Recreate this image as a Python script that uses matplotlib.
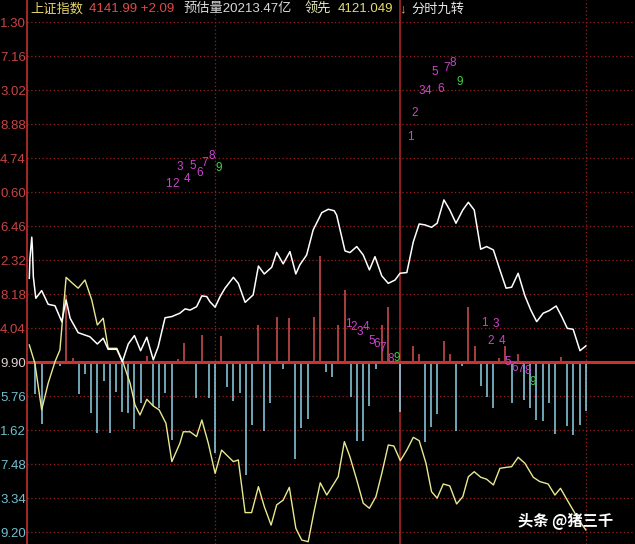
import matplotlib
matplotlib.use('Agg')
import matplotlib.pyplot as plt

plt.rcParams['font.family'] = ['Liberation Sans', 'Noto Sans CJK SC', 'DejaVu Sans']

# ---------------- data ----------------
prev_close = 4139.90

grid_values = [4069.20, 4083.34, 4097.48, 4111.62, 4125.76, 4139.90, 4154.04,
               4168.18, 4182.32, 4196.46, 4210.60, 4224.74, 4238.88, 4253.02,
               4267.16, 4281.30]
grid_labels = ['9.20', '3.34', '7.48', '1.62', '5.76', '9.90', '4.04',
               '8.18', '2.32', '6.46', '0.60', '4.74', '8.88', '3.02',
               '7.16', '1.30']

# price line (minutes since open, index value)
price_t = [0, 0.2, 0.8, 1.0, 1.3, 2.1, 4.0, 6.1, 8.3, 10.5, 11.9, 13.2, 15.8, 19.6,
           22.0, 23.9, 25.5, 28.3, 30.1, 32.0, 34.0, 36.0, 38.0, 40.1, 41.7, 43.9,
           46.1, 48.7, 50.4, 52.0, 54.1, 55.8, 57.4, 58.4, 60.1, 61.7, 63.3, 66.0,
           67.6, 69.8, 72.4, 74.1, 76.0, 78.4, 80.0, 82.1, 84.3, 86.2, 87.5, 89.7,
           91.8, 94.6, 96.7, 98.6, 99.4, 102.1, 103.7, 105.9, 108.0, 110.0, 111.8,
           114.0, 116.1, 118.3, 119.9, 122.1, 124.2, 126.1, 128.0, 130.1, 131.9,
           134.1, 136.0, 138.0, 140.2, 142.0, 143.9, 146.0, 147.9, 150.1, 152.2,
           154.2, 156.0, 158.1, 160.3, 162.2, 164.1, 166.2, 168.2, 170.4, 172.2,
           174.0, 175.9, 178.1, 180.0]
price_v = [4174.8, 4183.1, 4191.9, 4187.4, 4175.5, 4166.5, 4169.7, 4164.0, 4163.4,
           4156.8, 4165.8, 4158.2, 4152.2, 4150.5, 4147.5, 4149.9, 4145.3, 4145.3,
           4140.1, 4147.5, 4151.0, 4144.7, 4150.3, 4140.9, 4146.4, 4158.4, 4158.9,
           4160.3, 4162.1, 4161.6, 4163.0, 4167.5, 4167.2, 4165.1, 4162.8, 4167.2,
           4170.7, 4175.2, 4172.7, 4164.8, 4167.9, 4179.9, 4176.6, 4179.4, 4185.6,
           4180.8, 4185.9, 4176.6, 4180.4, 4184.5, 4194.9, 4202.1, 4203.5, 4202.9,
           4201.1, 4186.2, 4185.5, 4188.0, 4184.5, 4178.3, 4183.8, 4175.8, 4172.7,
           4174.1, 4176.9, 4177.2, 4190.0, 4197.4, 4197.0, 4196.0, 4197.7, 4207.4,
           4203.2, 4197.7, 4203.2, 4206.4, 4203.2, 4186.9, 4188.0, 4186.6, 4178.3,
           4170.7, 4171.1, 4176.9, 4167.5, 4161.6, 4156.8, 4160.3, 4161.4, 4163.3,
           4158.9, 4154.0, 4153.6, 4144.7, 4146.7]

# "领先" lead line
lead_t = [0, 1.8, 4.0, 6.1, 8.3, 9.9, 11.0, 11.9, 14.0, 15.8, 18.0, 20.2, 22.0,
          23.9, 25.5, 28.3, 30.4, 32.6, 34.2, 35.8, 38.0, 40.1, 42.0, 44.2, 46.1,
          48.7, 49.8, 52.0, 54.1, 55.8, 57.9, 60.1, 62.2, 64.4, 66.0, 67.6, 69.8,
          71.9, 74.1, 76.0, 78.2, 80.0, 82.1, 84.1, 86.2, 88.1, 90.2, 92.2, 94.1,
          96.2, 98.6, 99.9, 101.9, 103.7, 105.9, 108.0, 110.0, 112.1, 114.0, 116.1,
          117.9, 120.0, 122.1, 124.2, 126.1, 128.3, 130.1, 131.9, 133.9, 136.0,
          138.2, 140.2, 142.0, 143.9, 146.0, 147.9, 150.1, 152.2, 154.2, 156.0,
          158.1, 160.3, 163.0, 165.1, 167.8, 170.0, 171.8, 174.3, 176.5, 178.1, 180.0]
lead_v = [4147.1, 4139.5, 4120.1, 4131.2, 4140.1, 4145.0, 4161.6, 4175.2, 4172.7,
          4170.7, 4174.1, 4165.8, 4155.4, 4158.2, 4145.7, 4145.7, 4139.5, 4131.2,
          4122.1, 4118.0, 4124.5, 4121.7, 4120.1, 4114.5, 4098.6, 4106.2, 4111.0,
          4111.0, 4109.0, 4115.9, 4106.2, 4093.7, 4103.4, 4100.6, 4098.6, 4099.3,
          4077.4, 4077.4, 4088.2, 4079.9, 4072.2, 4080.6, 4082.6, 4087.9, 4070.9,
          4066.0, 4065.3, 4078.5, 4089.8, 4084.7, 4089.6, 4092.3, 4106.9, 4100.6,
          4091.0, 4081.3, 4079.2, 4084.0, 4093.7, 4105.5, 4105.1, 4099.0, 4103.4,
          4108.7, 4107.3, 4097.9, 4086.1, 4083.4, 4089.3, 4088.5, 4081.0, 4084.0,
          4092.3, 4094.4, 4092.1, 4091.3, 4088.9, 4095.8, 4096.2, 4096.5, 4100.4,
          4097.9, 4092.1, 4090.3, 4089.3, 4084.7, 4087.5, 4081.9, 4077.1, 4073.6,
          4070.2]

# bars (every 2 minutes), signed height from previous close
bar_t = list(range(0, 182, 2))
bar_v = [0, -13.2, -25.8, 0, 0, -1.5, 28.0, 1.7, -13.2, -5.0, -21.0, -29.5, -7.7,
         -29.5, -12.2, -20.5, -21.0, -27.9, -17.0, 2.6, -18.2, -19.1, -12.9, -32.3,
         1.2, 8.2, -0.4, -15.0, 11.4, -15.0, -37.8, 10.9, -10.1, -16.0, -12.9,
         -46.9, -26.1, 15.5, -28.4, -16.8, 19.0, -2.9, 18.3, -40.3, -27.4, -23.7,
         19.0, 44.2, -3.9, -6.3, 15.5, 30.1, -14.6, -32.6, -32.6, -18.2, -2.8,
         15.5, 23.1, 0, -20.5, -0.4, 6.9, 3.3, -33.0, -26.8, -21.5, 9.0, 3.3,
         -28.4, -1.4, 22.9, 6.9, -9.9, -14.6, -19.1, 1.7, 6.6, -16.8, 3.5, -15.7,
         -19.1, -24.0, -24.3, -17.0, -29.8, 2.3, -26.5, -30.2, -26.1, -20.1]

# 分时九转 counts
nine_t = [44.9, 47.2, 48.7, 51.1, 53.0, 55.0, 56.8, 59.0, 61.4,
          123.1, 124.7, 126.9, 129.0, 131.0, 133.1, 135.0, 136.9, 139.1,
          103.2, 105.0, 107.0, 108.8, 110.7, 112.5, 114.3, 116.9, 119.0,
          147.1, 149.2, 151.0, 153.0, 154.9, 157.0, 158.8, 161.1, 162.8]
nine_v = [4213.9, 4213.9, 4221.2, 4216.0, 4221.5, 4218.5, 4222.9, 4225.7, 4220.6,
          4233.7, 4243.7, 4252.8, 4252.8, 4260.5, 4253.5, 4262.4, 4264.5, 4256.6,
          4155.8, 4154.7, 4152.6, 4154.7, 4148.9, 4147.5, 4145.7, 4141.1, 4141.8,
          4156.2, 4148.9, 4155.7, 4148.9, 4140.0, 4137.4, 4137.1, 4136.4, 4131.8]
nine_n = [1, 2, 3, 4, 5, 6, 7, 8, 9] * 4

# ---------------- figure ----------------
W, H = 635, 544
fig = plt.figure(figsize=(W / 100, H / 100), dpi=100, facecolor='black')
left_px = 27.3
ax = fig.add_axes([left_px / W, 0, 1 - left_px / W, 1])
ax.set_facecolor('black')
ax.set_xlim(-0.65, 195.9)
ax.set_ylim(4064.35, 4290.5)

for s in ['top', 'right', 'bottom']:
    ax.spines[s].set_visible(False)
ax.spines['left'].set_color('#C03030')
ax.spines['left'].set_linewidth(1.2)

# grid
for v in grid_values:
    if abs(v - prev_close) < 1e-6:
        ax.axhline(v, color='#C83232', lw=2.2, zorder=2.5)
    else:
        ax.axhline(v, color='#9A2020', lw=0.9, ls=(0, (1, 2)), zorder=1)
ax.axvline(120, color='#B82828', lw=1.1, zorder=1)
for v in (60, 180):
    ax.axvline(v, color='#9A2020', lw=0.9, ls=(0, (1, 2)), zorder=1)

# bars
bt = [t for t, v in zip(bar_t, bar_v) if v != 0]
bv = [v for v in bar_v if v != 0]
bcol = ['#D85050' if v > 0 else '#8FD3E8' for v in bv]
ax.vlines(bt, prev_close, [prev_close + v for v in bv], colors=bcol, lw=1.1, zorder=2)

# lines
ax.plot(lead_t, lead_v, color='#E8E890', lw=1.0, zorder=3)
ax.plot(price_t, price_v, color='white', lw=1.1, zorder=3.2)

# nine-turn digits
for t, v, n in zip(nine_t, nine_v, nine_n):
    ax.text(t, v, str(n), color='#40D040' if n == 9 else '#CC44CC',
            fontsize=8.5, ha='center', va='center', zorder=4)

# y tick labels
ax.set_xticks([])
ax.set_yticks(grid_values)
ax.set_yticklabels(grid_labels)
ax.tick_params(axis='y', length=0, pad=1, labelsize=9.5)
for lab, v in zip(ax.get_yticklabels(), grid_values):
    if v > prev_close + 1e-6:
        lab.set_color('#C84444')
    elif v < prev_close - 1e-6:
        lab.set_color('#6FC0D0')
    else:
        lab.set_color('#E0D0D0')

# header
hy = 1 - 9 / H
header = [(30, '上证指数', '#E6D46A'),
          (89, '4141.99 +2.09', '#E04A4A'),
          (183, '预估量20213.47亿', '#D8D8D8'),
          (305, '领先', '#E8E8B8'),
          (338, '4121.049', '#E6DC6A'),
          (399, '↓', '#E8A040'),
          (411, '分时九转', '#E6E6E6')]
for x, s, c in header:
    fig.text(x / W, hy, s, color=c, fontsize=9.5, ha='left', va='center')

# watermark
fig.text(518 / W, 1 - 521 / H, '头条 @猪三千', color='white', fontsize=11,
         fontweight='bold', ha='left', va='center',
         family=['Noto Sans CJK SC', 'DejaVu Sans'])

fig.savefig('out.png', dpi=100, facecolor='black')
